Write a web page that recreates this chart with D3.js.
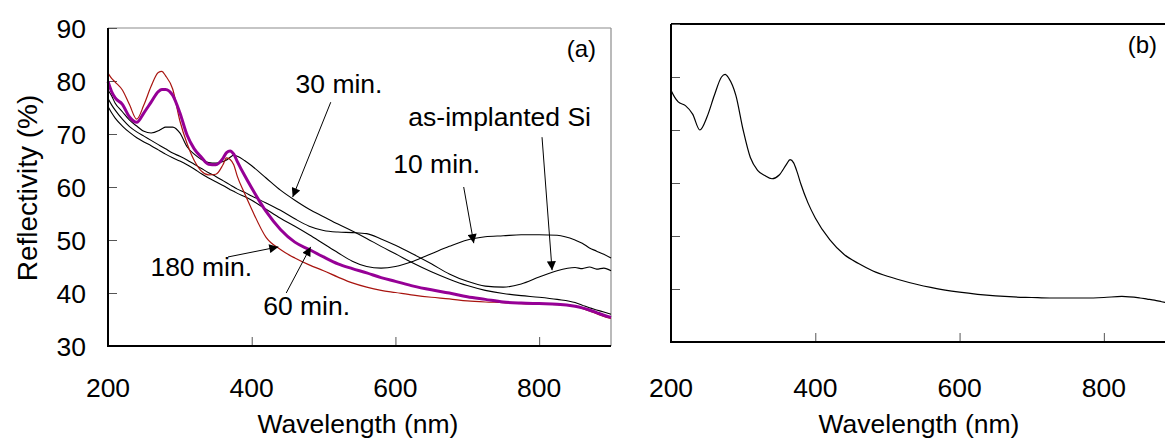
<!DOCTYPE html>
<html>
<head>
<meta charset="utf-8">
<script src="https://cdn.jsdelivr.net/npm/d3@7"></script>
<style>
  body { margin: 0; background: #fff; }
  svg { display: block; font-family: "Liberation Sans", Arial, sans-serif; }
</style>
</head>
<body>
<div id="chart"></div>
<script>
/////////////////////////////////////////
//////////////// DATA ///////////////////
/////////////////////////////////////////

//wavelength grid (nm), shared by every curve
const wavelength = [200,205,210,220,230,240,250,260,270,275,280,290,300,310,320,330,340,350,360,365,370,375,380,390,400,
  420,440,460,480,500,520,540,560,580,600,625,650,675,700,725,750,775,800,825,850,860,870,880,890,900];

//panel (a) - reflectivity (%)
const asImplanted = [76.7,75.5,74.5,72.8,71.4,70.4,69.6,68.8,68.0,67.6,67.2,66.4,65.8,65.1,64.3,63.5,62.7,62.0,61.2,60.8,60.4,60.0,59.6,59.0,58.3,
  57.0,55.6,54.0,52.6,51.8,51.5,51.4,51.2,50.2,49.0,47.3,45.5,43.6,42.2,41.3,41.1,41.7,43.0,44.2,44.8,44.6,44.9,44.5,44.7,44.2];
const anneal10 = [75.2,74.0,73.0,71.5,70.3,69.3,68.5,67.8,67.0,66.6,66.2,65.5,64.9,64.2,63.4,62.5,61.7,61.0,60.3,59.9,59.5,59.2,58.8,58.2,57.5,
  55.8,54.1,52.6,51.0,49.3,47.6,46.0,45.0,44.7,45.0,46.0,47.4,48.8,50.0,50.6,50.8,51.0,51.0,50.9,50.0,49.4,48.5,47.9,47.3,46.6];
const anneal30 = [78.3,77.2,75.8,74.2,72.6,71.5,70.5,70.2,70.6,71.0,71.3,71.3,70.2,67.6,66.2,65.2,64.6,64.5,64.8,65.1,65.6,66.0,65.8,65.0,64.0,
  61.7,59.4,57.5,55.8,54.4,53.0,51.7,50.3,48.8,47.4,45.6,44.0,42.6,41.4,40.5,39.9,39.5,39.2,38.8,38.2,37.7,37.2,36.8,36.4,36.0];
const anneal60 = [79.9,78.0,76.8,75.6,73.2,72.2,74.0,76.0,78.0,78.4,78.4,77.3,74.0,69.8,67.2,65.6,64.3,64.2,65.4,66.5,66.8,66.2,64.8,62.2,59.8,
  55.4,52.0,49.6,48.2,46.8,45.5,44.6,43.8,42.9,42.2,41.3,40.6,40.0,39.3,38.8,38.3,38.1,38.0,37.9,37.5,37.2,36.8,36.3,35.8,35.4];
const anneal180 = [81.5,80.5,79.8,78.3,75.5,72.8,75.5,79.0,81.6,81.8,81.0,78.5,72.5,68.2,65.0,63.0,62.3,62.4,64.2,65.5,65.2,64.2,62.0,58.8,55.8,
  50.5,48.2,46.6,45.3,44.2,43.0,41.9,41.1,40.5,40.1,39.6,39.2,38.9,38.5,38.3,38.2,38.0,37.9,37.8,37.5,37.1,36.6,36.1,35.6,35.2];

//panel (b) - reflectivity (%)
const panelB = [77.5,76.2,75.3,74.6,73.0,70.0,72.5,76.5,80.0,80.5,79.8,76.5,70.0,64.8,62.4,61.4,60.8,61.5,63.5,64.4,63.8,62.0,59.8,56.2,53.4,
  49.3,46.5,44.8,43.4,42.4,41.6,40.9,40.3,39.8,39.4,39.0,38.7,38.5,38.4,38.3,38.3,38.3,38.4,38.6,38.3,38.1,37.9,37.6,37.3,37.0];

const xTicks = [200, 400, 600, 800];
const yTicks = [30, 40, 50, 60, 70, 80, 90];

//labels of panel (a): text anchor + arrow start + arrow tip, all in data units
const notes = [
  {text: "30 min.",          tx: 461, ty: 77.7, x1: 510, y1: 76.0, x2: 457, y2: 58.1},
  {text: "as-implanted Si",  tx: 618, ty: 71.5, x1: 804, y1: 69.4, x2: 818, y2: 44.3},
  {text: "10 min.",          tx: 597, ty: 62.6, x1: 695, y1: 60.0, x2: 709, y2: 49.4},
  {text: "180 min.",         tx: 259, ty: 43.2, x1: 367, y1: 46.8, x2: 437, y2: 48.7},
  {text: "60 min.",          tx: 416, ty: 35.8, x1: 448, y1: 40.0, x2: 482, y2: 48.7}
];

/////////////////////////////////////////
/////////////// COLORS //////////////////
/////////////////////////////////////////

const COLORS = {
  black: "#000",
  red: "#a8140f",
  purple: "#960096",
  frame: "#8c8c8c"
};

const FONT = 26.5;

const WIDTH = 1165, HEIGHT = 446;

const svg = d3.select("#chart").append("svg")
  .attr("width", WIDTH)
  .attr("height", HEIGHT);

//shared y range 30..90 for both panels
const yDomain = [30, 90];
const xDomain = [200, 900];

function panel(opts) {
  const x = d3.scaleLinear().domain(xDomain).range([opts.left, opts.right]);
  const y = d3.scaleLinear().domain(yDomain).range([opts.bottom, opts.top]);
  const g = svg.append("g");

  //frame (top / right)
  g.append("line")
    .attr("x1", opts.left).attr("x2", opts.right)
    .attr("y1", opts.top).attr("y2", opts.top)
    .attr("stroke", opts.frameColor).attr("stroke-width", opts.frameWidth);
  g.append("line")
    .attr("x1", opts.right).attr("x2", opts.right)
    .attr("y1", opts.top).attr("y2", opts.bottom)
    .attr("stroke", opts.frameColor).attr("stroke-width", opts.frameWidth);

  //inward ticks, no domain line from d3 (drawn separately)
  const yAxis = d3.axisRight(y).tickValues(yTicks).tickSize(9).tickFormat("");
  const xAxis = d3.axisTop(x).tickValues(xTicks).tickSize(9).tickFormat("");

  g.append("g").attr("transform", `translate(${opts.left},0)`).call(yAxis)
    .call(a => a.select(".domain").remove())
    .call(a => a.selectAll("line").attr("stroke", "#555"));
  g.append("g").attr("transform", `translate(0,${opts.bottom})`).call(xAxis)
    .call(a => a.select(".domain").remove())
    .call(a => a.selectAll("line").attr("stroke", "#555"));

  //curves
  const line = d3.line()
    .x((d, i) => x(wavelength[i]))
    .y(d => y(d))
    .curve(d3.curveMonotoneX);

  opts.series.forEach(s => {
    g.append("path")
      .datum(s.values)
      .attr("fill", "none")
      .attr("stroke", s.color)
      .attr("stroke-width", s.width)
      .attr("stroke-linejoin", "round")
      .attr("d", line);
  });

  //left / bottom axis lines on top of the curves
  g.append("line")
    .attr("x1", opts.left).attr("x2", opts.left)
    .attr("y1", opts.top).attr("y2", opts.bottom + 1)
    .attr("stroke", "#000").attr("stroke-width", 2);
  g.append("line")
    .attr("x1", opts.left - 1).attr("x2", opts.right)
    .attr("y1", opts.bottom).attr("y2", opts.bottom)
    .attr("stroke", "#000").attr("stroke-width", 2);

  //x tick labels
  g.selectAll(".xlab")
    .data(xTicks)
    .join("text")
      .attr("x", d => x(d))
      .attr("y", 397)
      .attr("text-anchor", "middle")
      .attr("font-size", FONT)
      .text(d => d);

  g.append("text")
    .attr("x", opts.titleX)
    .attr("y", 433)
    .attr("text-anchor", "middle")
    .attr("font-size", FONT)
    .text("Wavelength (nm)");

  g.append("text")
    .attr("x", opts.tagX)
    .attr("y", opts.tagY)
    .attr("text-anchor", "end")
    .attr("font-size", 24)
    .text(opts.tag);

  return {g, x, y};
}

/////////////////// Panel (a) /////////////////////
const A = panel({
  left: 108, right: 611, top: 28, bottom: 346,
  frameColor: COLORS.frame, frameWidth: 1.2,
  titleX: 358, tag: "(a)", tagX: 596, tagY: 57,
  series: [
    {values: asImplanted, color: COLORS.black, width: 1.1},
    {values: anneal10, color: COLORS.black, width: 1.1},
    {values: anneal30, color: COLORS.black, width: 1.1},
    {values: anneal180, color: COLORS.red, width: 1.2},
    {values: anneal60, color: COLORS.purple, width: 3}
  ]
});

//y tick labels (panel a only)
A.g.selectAll(".ylab")
  .data(yTicks)
  .join("text")
    .attr("x", 86)
    .attr("y", d => A.y(d))
    .attr("dy", "0.36em")
    .attr("text-anchor", "end")
    .attr("font-size", FONT)
    .text(d => d);

svg.append("text")
  .attr("transform", "translate(37,188) rotate(-90)")
  .attr("text-anchor", "middle")
  .attr("font-size", 28)
  .text("Reflectivity (%)");

//arrows + labels
svg.append("defs").append("marker")
  .attr("id", "head")
  .attr("viewBox", "0 0 10 10")
  .attr("refX", 10).attr("refY", 5)
  .attr("markerWidth", 11).attr("markerHeight", 9)
  .attr("markerUnits", "userSpaceOnUse")
  .attr("orient", "auto")
  .append("path")
    .attr("d", "M0,0 L10,5 L0,10 Z")
    .attr("fill", "#000");

const ann = A.g.append("g");
notes.forEach(n => {
  ann.append("line")
    .attr("x1", A.x(n.x1)).attr("y1", A.y(n.y1))
    .attr("x2", A.x(n.x2)).attr("y2", A.y(n.y2))
    .attr("stroke", "#000").attr("stroke-width", 1)
    .attr("marker-end", "url(#head)");
  ann.append("text")
    .attr("x", A.x(n.tx)).attr("y", A.y(n.ty))
    .attr("font-size", FONT)
    .text(n.text);
});

/////////////////// Panel (b) /////////////////////
panel({
  left: 671, right: 1176, top: 24, bottom: 342,
  frameColor: "#000", frameWidth: 2,
  titleX: 919, tag: "(b)", tagX: 1157, tagY: 53,
  series: [
    {values: panelB, color: COLORS.black, width: 1.2}
  ]
});
</script>
</body>
</html>
